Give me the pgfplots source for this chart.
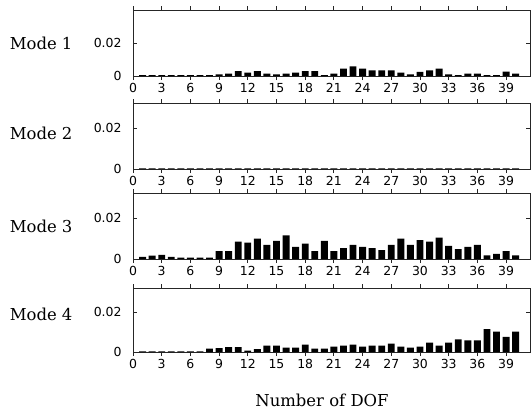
\documentclass[border=0pt]{standalone}
\usepackage{pgfplots}
\pgfplotsset{compat=1.18}
\usepackage{fontspec}
\setmainfont{DejaVu Serif}
\newfontfamily\tickfont{DejaVu Sans}
\pgfplotsset{panel/.style={
  width=397bp, height=66bp, scale only axis,
  xmin=0, xmax=41.5, ymin=0,
  xtick={0,3,...,39},
  ytick={0,0.02}, yticklabels={0,0.02},
  scaled y ticks=false,
  tick align=inside,
  major tick length=4bp,
  axis line style={line width=0.8pt, black!85},
  every tick/.style={black!85, line width=0.8pt},
  ybar, bar width=0.72,
  tick label style={font=\tickfont\fontsize{12.5}{13}\selectfont},
  yticklabel style={xshift=-8bp},
  xticklabel style={yshift=0bp},
  /pgf/number format/assume math mode=true,
  anchor=south west,
  clip=false,
}}
\newcommand{\modelabel}[2]{\node[anchor=east, font=\fontsize{16.5}{18}\selectfont] at (rel axis cs:-0.1436,#2) {#1};}
\begin{document}
\begin{tikzpicture}
\useasboundingbox (0,0) rectangle (531bp,-413bp);
% Mode 1
\begin{axis}[panel, at={(133bp,-76bp)}, ymax=0.04]
\addplot[fill=black, draw=none] coordinates {
(1,0.0005)(2,0.0005)(3,0.0005)(4,0.0005)(5,0.0005)(6,0.0005)(7,0.0005)(8,0.0005)
(9,0.001)(10,0.0015)(11,0.003)(12,0.002)(13,0.003)(14,0.0015)(15,0.001)(16,0.0015)
(17,0.002)(18,0.003)(19,0.003)(20,0.0006)(21,0.0015)(22,0.0044)(23,0.0059)(24,0.0044)
(25,0.0034)(26,0.0034)(27,0.0034)(28,0.002)(29,0.001)(30,0.0025)(31,0.0034)(32,0.0044)
(33,0.001)(34,0.0006)(35,0.0015)(36,0.0015)(37,0.0006)(38,0.0006)(39,0.0027)(40,0.0015)};
\modelabel{Mode 1}{0.5}
\end{axis}
% Mode 2
\begin{axis}[panel, at={(133bp,-169bp)}, ymax=0.0324]
\addplot[fill=black, draw=none] coordinates {
(1,0.0003)(2,0.0003)(3,0.0003)(4,0.0003)(5,0.0003)(6,0.0003)(7,0.0003)(8,0.0003)
(9,0.0003)(10,0.0003)(11,0.0003)(12,0.0003)(13,0.0003)(14,0.0003)(15,0.0003)(16,0.0003)
(17,0.0003)(18,0.0003)(19,0.0003)(20,0.0003)(21,0.0003)(22,0.0003)(23,0.0003)(24,0.0003)
(25,0.0003)(26,0.0003)(27,0.0003)(28,0.0003)(29,0.0003)(30,0.0003)(31,0.0003)(32,0.0003)
(33,0.0003)(34,0.0003)(35,0.0003)(36,0.0003)(37,0.0003)(38,0.0003)(39,0.0003)(40,0.0003)};
\modelabel{Mode 2}{0.545}
\end{axis}
% Mode 3
\begin{axis}[panel, at={(133bp,-259bp)}, ymax=0.0324]
\addplot[fill=black, draw=none] coordinates {
(1,0.0011)(2,0.0016)(3,0.002)(4,0.0011)(5,0.0007)(6,0.0007)(7,0.0007)(8,0.0007)
(9,0.0039)(10,0.0039)(11,0.0085)(12,0.008)(13,0.010)(14,0.0069)(15,0.0089)(16,0.0116)
(17,0.0059)(18,0.0075)(19,0.0039)(20,0.0089)(21,0.0039)(22,0.0054)(23,0.0069)(24,0.0059)
(25,0.0054)(26,0.0044)(27,0.0069)(28,0.010)(29,0.0069)(30,0.0093)(31,0.0085)(32,0.0105)
(33,0.0064)(34,0.0049)(35,0.0059)(36,0.0069)(37,0.0018)(38,0.0025)(39,0.0039)(40,0.0018)};
\modelabel{Mode 3}{0.5}
\end{axis}
% Mode 4
\begin{axis}[panel, at={(133bp,-352bp)}, height=64bp, ymax=0.032]
\addplot[fill=black, draw=none] coordinates {
(1,0.0003)(2,0.0003)(3,0.0003)(4,0.0003)(5,0.0003)(6,0.0003)(7,0.0003)(8,0.0017)
(9,0.002)(10,0.0025)(11,0.0025)(12,0.0007)(13,0.0014)(14,0.0032)(15,0.0032)(16,0.0022)
(17,0.0022)(18,0.0037)(19,0.0017)(20,0.0017)(21,0.0027)(22,0.0032)(23,0.0037)(24,0.0027)
(25,0.0032)(26,0.0032)(27,0.0042)(28,0.0027)(29,0.0022)(30,0.0027)(31,0.0047)(32,0.0032)
(33,0.0047)(34,0.0063)(35,0.0058)(36,0.0058)(37,0.0114)(38,0.0102)(39,0.0076)(40,0.0102)};
\modelabel{Mode 4}{0.59}
\end{axis}
\node[font=\fontsize{16.5}{18}\selectfont] at (322bp,-400bp) {Number of DOF};
\end{tikzpicture}
\end{document}
